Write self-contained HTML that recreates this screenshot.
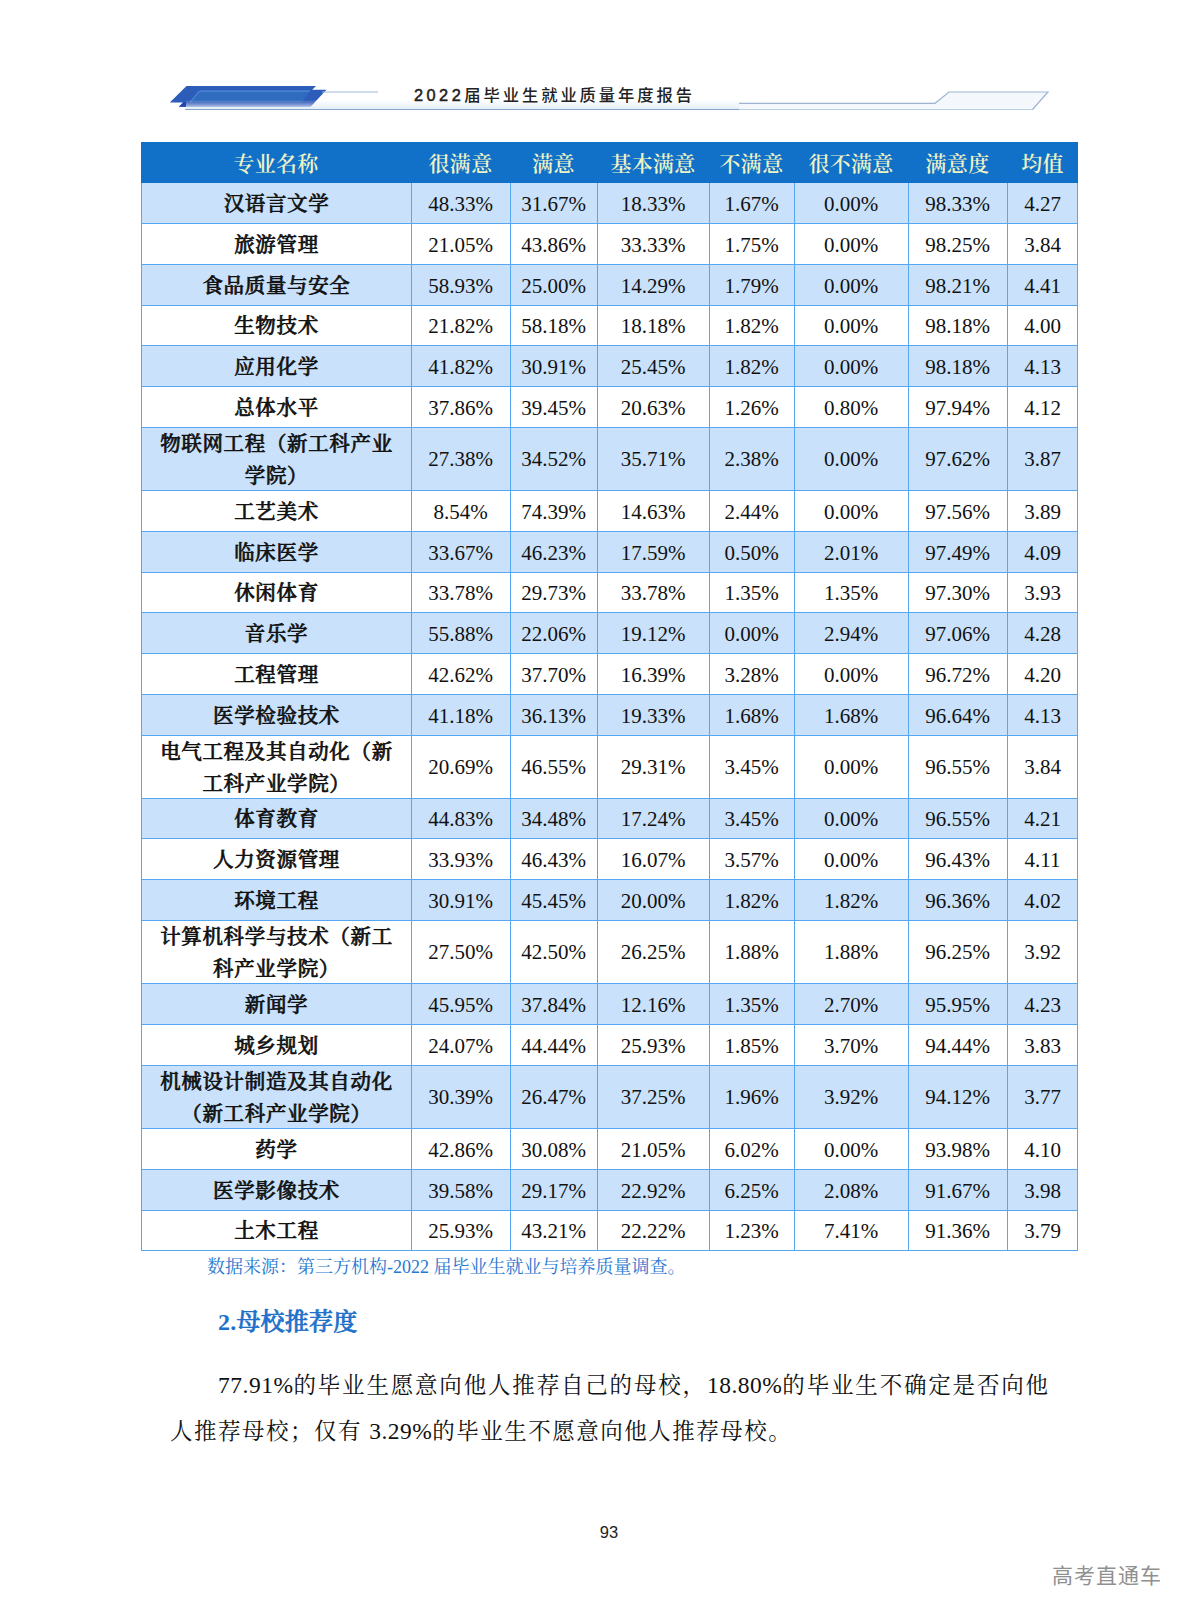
<!DOCTYPE html>
<html lang="zh-CN"><head><meta charset="utf-8"><title>2022届毕业生就业质量年度报告</title>
<style>
html,body{margin:0;padding:0;background:#fff;}
body{width:1190px;height:1615px;position:relative;overflow:hidden;font-family:"Liberation Serif","Noto Serif CJK SC",serif;color:#111;}
.abs{position:absolute;}
.tbl{position:absolute;left:0;top:0;}
.row{position:absolute;left:141px;width:937px;box-sizing:border-box;}
.row.alt{background:#c9e1fa;}
.row.tall .cell{top:0;bottom:0;}
.row.tall .cell.name{top:2px;bottom:-2px;}
.cell{position:absolute;top:1px;bottom:-1px;display:flex;align-items:center;justify-content:center;text-align:center;box-sizing:border-box;font-size:21px;line-height:30px;white-space:nowrap;}
.cell.name{font-family:"Liberation Serif","Noto Serif CJK SC",serif;font-weight:500;-webkit-text-stroke:0.65px #111;font-size:20.5px;letter-spacing:0.65px;line-height:31.6px;padding-left:1px;top:2px;bottom:-2px;}
.hdr{background:#1170c8;color:#eef3c6;}
.hdr .cell{font-size:21px;font-weight:600;letter-spacing:0.3px;top:1px;bottom:-1px;}
.vl{position:absolute;width:1px;background:#55a7f2;}
.hl{position:absolute;height:1px;background:#55a7f2;left:141px;width:937px;}
.cap{position:absolute;left:207px;top:1254px;font-size:18px;line-height:26px;color:#2878d0;white-space:nowrap;}
.h2{position:absolute;left:218px;top:1305px;font-size:24px;letter-spacing:0.2px;line-height:34px;font-weight:500;-webkit-text-stroke:0.7px #2070ca;color:#2070ca;white-space:nowrap;}
.h2 span{font-weight:700;-webkit-text-stroke:0;}
.p{position:absolute;font-size:22.5px;line-height:46px;white-space:nowrap;color:#111;}
.p .n{font-size:23.5px;letter-spacing:0.5px;}
.pn{position:absolute;left:560px;width:98px;text-align:center;top:1522px;font-family:"Liberation Sans",sans-serif;font-size:16.5px;line-height:20px;color:#222;}
.wm{position:absolute;left:1052px;top:1561px;font-family:"Liberation Sans","Noto Sans CJK SC",sans-serif;font-weight:400;font-size:21px;letter-spacing:1px;line-height:30px;color:#909090;white-space:nowrap;}
.title{position:absolute;left:414px;top:83px;font-family:"Liberation Sans","Noto Sans CJK SC",sans-serif;font-weight:500;font-size:16.3px;line-height:24px;letter-spacing:2.95px;color:#222;white-space:nowrap;}
</style></head><body>
<svg class="abs" style="left:0;top:60px" width="1190" height="70" viewBox="0 60 1190 70">
<defs>
<linearGradient id="g1" x1="0" x2="0" y1="0" y2="1"><stop offset="0" stop-color="#e3edf8" stop-opacity="0"/><stop offset="1" stop-color="#e3edf8" stop-opacity="1"/></linearGradient>
</defs>
<polygon points="169.8,102.6 186.5,86 316,86 299.5,102.6" fill="#2c5db9"/>
<polygon points="179,106.8 195,89.8 326.5,89.8 310.5,106.8" fill="#2d5cba"/>
<polygon points="179,106.8 183.3,102.3 314.7,102.3 310.5,106.8" fill="#2446b0"/>
<polygon points="190,102.3 199.5,91 310,91 302,102.3" fill="#2f6cc0"/>
<polyline points="190,102.3 199.5,91 310,91" fill="none" stroke="#5f9be0" stroke-width="0.9"/>
<rect x="186" y="100" width="846" height="9.5" fill="url(#g1)"/>
<line x1="185" y1="109.5" x2="1033" y2="109.5" stroke="#86a6cc" stroke-width="1.2"/>
<line x1="322" y1="92" x2="378" y2="92" stroke="#9bb8d8" stroke-width="1.2"/>
<polygon points="739,103.3 935,103.3 949,92 1048,92 1032.5,109.5 739,109.5" fill="#f4f8fc"/>
<polyline points="739,103.3 935,103.3 949,92 1048,92 1032.5,109.5" fill="none" stroke="#9fb5cf" stroke-width="1.2"/>
</svg>
<div class="title"><span style="font-weight:400;-webkit-text-stroke:0.5px #222;letter-spacing:3.5px">2022</span>届毕业生就业质量年度报告</div>
<div class="row hdr" style="top:142px;height:41px"><div class="cell " style="left:0px;width:270px">专业名称</div><div class="cell" style="left:270px;width:99px">很满意</div><div class="cell" style="left:369px;width:87px">满意</div><div class="cell" style="left:456px;width:112px">基本满意</div><div class="cell" style="left:568px;width:85px">不满意</div><div class="cell" style="left:653px;width:114px">很不满意</div><div class="cell" style="left:767px;width:99px">满意度</div><div class="cell" style="left:866px;width:71px">均值</div></div>
<div class="row alt" style="top:183px;height:40px"><div class="cell name" style="left:0px;width:270px">汉语言文学</div><div class="cell" style="left:270px;width:99px">48.33%</div><div class="cell" style="left:369px;width:87px">31.67%</div><div class="cell" style="left:456px;width:112px">18.33%</div><div class="cell" style="left:568px;width:85px">1.67%</div><div class="cell" style="left:653px;width:114px">0.00%</div><div class="cell" style="left:767px;width:99px">98.33%</div><div class="cell" style="left:866px;width:71px">4.27</div></div>
<div class="row" style="top:223px;height:41px"><div class="cell name" style="left:0px;width:270px">旅游管理</div><div class="cell" style="left:270px;width:99px">21.05%</div><div class="cell" style="left:369px;width:87px">43.86%</div><div class="cell" style="left:456px;width:112px">33.33%</div><div class="cell" style="left:568px;width:85px">1.75%</div><div class="cell" style="left:653px;width:114px">0.00%</div><div class="cell" style="left:767px;width:99px">98.25%</div><div class="cell" style="left:866px;width:71px">3.84</div></div>
<div class="row alt" style="top:264px;height:41px"><div class="cell name" style="left:0px;width:270px">食品质量与安全</div><div class="cell" style="left:270px;width:99px">58.93%</div><div class="cell" style="left:369px;width:87px">25.00%</div><div class="cell" style="left:456px;width:112px">14.29%</div><div class="cell" style="left:568px;width:85px">1.79%</div><div class="cell" style="left:653px;width:114px">0.00%</div><div class="cell" style="left:767px;width:99px">98.21%</div><div class="cell" style="left:866px;width:71px">4.41</div></div>
<div class="row" style="top:305px;height:40px"><div class="cell name" style="left:0px;width:270px">生物技术</div><div class="cell" style="left:270px;width:99px">21.82%</div><div class="cell" style="left:369px;width:87px">58.18%</div><div class="cell" style="left:456px;width:112px">18.18%</div><div class="cell" style="left:568px;width:85px">1.82%</div><div class="cell" style="left:653px;width:114px">0.00%</div><div class="cell" style="left:767px;width:99px">98.18%</div><div class="cell" style="left:866px;width:71px">4.00</div></div>
<div class="row alt" style="top:345px;height:41px"><div class="cell name" style="left:0px;width:270px">应用化学</div><div class="cell" style="left:270px;width:99px">41.82%</div><div class="cell" style="left:369px;width:87px">30.91%</div><div class="cell" style="left:456px;width:112px">25.45%</div><div class="cell" style="left:568px;width:85px">1.82%</div><div class="cell" style="left:653px;width:114px">0.00%</div><div class="cell" style="left:767px;width:99px">98.18%</div><div class="cell" style="left:866px;width:71px">4.13</div></div>
<div class="row" style="top:386px;height:41px"><div class="cell name" style="left:0px;width:270px">总体水平</div><div class="cell" style="left:270px;width:99px">37.86%</div><div class="cell" style="left:369px;width:87px">39.45%</div><div class="cell" style="left:456px;width:112px">20.63%</div><div class="cell" style="left:568px;width:85px">1.26%</div><div class="cell" style="left:653px;width:114px">0.80%</div><div class="cell" style="left:767px;width:99px">97.94%</div><div class="cell" style="left:866px;width:71px">4.12</div></div>
<div class="row alt tall" style="top:427px;height:63px"><div class="cell name" style="left:0px;width:270px">物联网工程（新工科产业<br>学院）</div><div class="cell" style="left:270px;width:99px">27.38%</div><div class="cell" style="left:369px;width:87px">34.52%</div><div class="cell" style="left:456px;width:112px">35.71%</div><div class="cell" style="left:568px;width:85px">2.38%</div><div class="cell" style="left:653px;width:114px">0.00%</div><div class="cell" style="left:767px;width:99px">97.62%</div><div class="cell" style="left:866px;width:71px">3.87</div></div>
<div class="row" style="top:490px;height:41px"><div class="cell name" style="left:0px;width:270px">工艺美术</div><div class="cell" style="left:270px;width:99px">8.54%</div><div class="cell" style="left:369px;width:87px">74.39%</div><div class="cell" style="left:456px;width:112px">14.63%</div><div class="cell" style="left:568px;width:85px">2.44%</div><div class="cell" style="left:653px;width:114px">0.00%</div><div class="cell" style="left:767px;width:99px">97.56%</div><div class="cell" style="left:866px;width:71px">3.89</div></div>
<div class="row alt" style="top:531px;height:41px"><div class="cell name" style="left:0px;width:270px">临床医学</div><div class="cell" style="left:270px;width:99px">33.67%</div><div class="cell" style="left:369px;width:87px">46.23%</div><div class="cell" style="left:456px;width:112px">17.59%</div><div class="cell" style="left:568px;width:85px">0.50%</div><div class="cell" style="left:653px;width:114px">2.01%</div><div class="cell" style="left:767px;width:99px">97.49%</div><div class="cell" style="left:866px;width:71px">4.09</div></div>
<div class="row" style="top:572px;height:40px"><div class="cell name" style="left:0px;width:270px">休闲体育</div><div class="cell" style="left:270px;width:99px">33.78%</div><div class="cell" style="left:369px;width:87px">29.73%</div><div class="cell" style="left:456px;width:112px">33.78%</div><div class="cell" style="left:568px;width:85px">1.35%</div><div class="cell" style="left:653px;width:114px">1.35%</div><div class="cell" style="left:767px;width:99px">97.30%</div><div class="cell" style="left:866px;width:71px">3.93</div></div>
<div class="row alt" style="top:612px;height:41px"><div class="cell name" style="left:0px;width:270px">音乐学</div><div class="cell" style="left:270px;width:99px">55.88%</div><div class="cell" style="left:369px;width:87px">22.06%</div><div class="cell" style="left:456px;width:112px">19.12%</div><div class="cell" style="left:568px;width:85px">0.00%</div><div class="cell" style="left:653px;width:114px">2.94%</div><div class="cell" style="left:767px;width:99px">97.06%</div><div class="cell" style="left:866px;width:71px">4.28</div></div>
<div class="row" style="top:653px;height:41px"><div class="cell name" style="left:0px;width:270px">工程管理</div><div class="cell" style="left:270px;width:99px">42.62%</div><div class="cell" style="left:369px;width:87px">37.70%</div><div class="cell" style="left:456px;width:112px">16.39%</div><div class="cell" style="left:568px;width:85px">3.28%</div><div class="cell" style="left:653px;width:114px">0.00%</div><div class="cell" style="left:767px;width:99px">96.72%</div><div class="cell" style="left:866px;width:71px">4.20</div></div>
<div class="row alt" style="top:694px;height:41px"><div class="cell name" style="left:0px;width:270px">医学检验技术</div><div class="cell" style="left:270px;width:99px">41.18%</div><div class="cell" style="left:369px;width:87px">36.13%</div><div class="cell" style="left:456px;width:112px">19.33%</div><div class="cell" style="left:568px;width:85px">1.68%</div><div class="cell" style="left:653px;width:114px">1.68%</div><div class="cell" style="left:767px;width:99px">96.64%</div><div class="cell" style="left:866px;width:71px">4.13</div></div>
<div class="row tall" style="top:735px;height:63px"><div class="cell name" style="left:0px;width:270px">电气工程及其自动化（新<br>工科产业学院）</div><div class="cell" style="left:270px;width:99px">20.69%</div><div class="cell" style="left:369px;width:87px">46.55%</div><div class="cell" style="left:456px;width:112px">29.31%</div><div class="cell" style="left:568px;width:85px">3.45%</div><div class="cell" style="left:653px;width:114px">0.00%</div><div class="cell" style="left:767px;width:99px">96.55%</div><div class="cell" style="left:866px;width:71px">3.84</div></div>
<div class="row alt" style="top:798px;height:40px"><div class="cell name" style="left:0px;width:270px">体育教育</div><div class="cell" style="left:270px;width:99px">44.83%</div><div class="cell" style="left:369px;width:87px">34.48%</div><div class="cell" style="left:456px;width:112px">17.24%</div><div class="cell" style="left:568px;width:85px">3.45%</div><div class="cell" style="left:653px;width:114px">0.00%</div><div class="cell" style="left:767px;width:99px">96.55%</div><div class="cell" style="left:866px;width:71px">4.21</div></div>
<div class="row" style="top:838px;height:41px"><div class="cell name" style="left:0px;width:270px">人力资源管理</div><div class="cell" style="left:270px;width:99px">33.93%</div><div class="cell" style="left:369px;width:87px">46.43%</div><div class="cell" style="left:456px;width:112px">16.07%</div><div class="cell" style="left:568px;width:85px">3.57%</div><div class="cell" style="left:653px;width:114px">0.00%</div><div class="cell" style="left:767px;width:99px">96.43%</div><div class="cell" style="left:866px;width:71px">4.11</div></div>
<div class="row alt" style="top:879px;height:41px"><div class="cell name" style="left:0px;width:270px">环境工程</div><div class="cell" style="left:270px;width:99px">30.91%</div><div class="cell" style="left:369px;width:87px">45.45%</div><div class="cell" style="left:456px;width:112px">20.00%</div><div class="cell" style="left:568px;width:85px">1.82%</div><div class="cell" style="left:653px;width:114px">1.82%</div><div class="cell" style="left:767px;width:99px">96.36%</div><div class="cell" style="left:866px;width:71px">4.02</div></div>
<div class="row tall" style="top:920px;height:63px"><div class="cell name" style="left:0px;width:270px">计算机科学与技术（新工<br>科产业学院）</div><div class="cell" style="left:270px;width:99px">27.50%</div><div class="cell" style="left:369px;width:87px">42.50%</div><div class="cell" style="left:456px;width:112px">26.25%</div><div class="cell" style="left:568px;width:85px">1.88%</div><div class="cell" style="left:653px;width:114px">1.88%</div><div class="cell" style="left:767px;width:99px">96.25%</div><div class="cell" style="left:866px;width:71px">3.92</div></div>
<div class="row alt" style="top:983px;height:41px"><div class="cell name" style="left:0px;width:270px">新闻学</div><div class="cell" style="left:270px;width:99px">45.95%</div><div class="cell" style="left:369px;width:87px">37.84%</div><div class="cell" style="left:456px;width:112px">12.16%</div><div class="cell" style="left:568px;width:85px">1.35%</div><div class="cell" style="left:653px;width:114px">2.70%</div><div class="cell" style="left:767px;width:99px">95.95%</div><div class="cell" style="left:866px;width:71px">4.23</div></div>
<div class="row" style="top:1024px;height:41px"><div class="cell name" style="left:0px;width:270px">城乡规划</div><div class="cell" style="left:270px;width:99px">24.07%</div><div class="cell" style="left:369px;width:87px">44.44%</div><div class="cell" style="left:456px;width:112px">25.93%</div><div class="cell" style="left:568px;width:85px">1.85%</div><div class="cell" style="left:653px;width:114px">3.70%</div><div class="cell" style="left:767px;width:99px">94.44%</div><div class="cell" style="left:866px;width:71px">3.83</div></div>
<div class="row alt tall" style="top:1065px;height:63px"><div class="cell name" style="left:0px;width:270px">机械设计制造及其自动化<br>（新工科产业学院）</div><div class="cell" style="left:270px;width:99px">30.39%</div><div class="cell" style="left:369px;width:87px">26.47%</div><div class="cell" style="left:456px;width:112px">37.25%</div><div class="cell" style="left:568px;width:85px">1.96%</div><div class="cell" style="left:653px;width:114px">3.92%</div><div class="cell" style="left:767px;width:99px">94.12%</div><div class="cell" style="left:866px;width:71px">3.77</div></div>
<div class="row" style="top:1128px;height:41px"><div class="cell name" style="left:0px;width:270px">药学</div><div class="cell" style="left:270px;width:99px">42.86%</div><div class="cell" style="left:369px;width:87px">30.08%</div><div class="cell" style="left:456px;width:112px">21.05%</div><div class="cell" style="left:568px;width:85px">6.02%</div><div class="cell" style="left:653px;width:114px">0.00%</div><div class="cell" style="left:767px;width:99px">93.98%</div><div class="cell" style="left:866px;width:71px">4.10</div></div>
<div class="row alt" style="top:1169px;height:41px"><div class="cell name" style="left:0px;width:270px">医学影像技术</div><div class="cell" style="left:270px;width:99px">39.58%</div><div class="cell" style="left:369px;width:87px">29.17%</div><div class="cell" style="left:456px;width:112px">22.92%</div><div class="cell" style="left:568px;width:85px">6.25%</div><div class="cell" style="left:653px;width:114px">2.08%</div><div class="cell" style="left:767px;width:99px">91.67%</div><div class="cell" style="left:866px;width:71px">3.98</div></div>
<div class="row" style="top:1210px;height:40px"><div class="cell name" style="left:0px;width:270px">土木工程</div><div class="cell" style="left:270px;width:99px">25.93%</div><div class="cell" style="left:369px;width:87px">43.21%</div><div class="cell" style="left:456px;width:112px">22.22%</div><div class="cell" style="left:568px;width:85px">1.23%</div><div class="cell" style="left:653px;width:114px">7.41%</div><div class="cell" style="left:767px;width:99px">91.36%</div><div class="cell" style="left:866px;width:71px">3.79</div></div>
<div class="hl" style="top:223px"></div><div class="hl" style="top:264px"></div><div class="hl" style="top:305px"></div><div class="hl" style="top:345px"></div><div class="hl" style="top:386px"></div><div class="hl" style="top:427px"></div><div class="hl" style="top:490px"></div><div class="hl" style="top:531px"></div><div class="hl" style="top:572px"></div><div class="hl" style="top:612px"></div><div class="hl" style="top:653px"></div><div class="hl" style="top:694px"></div><div class="hl" style="top:735px"></div><div class="hl" style="top:798px"></div><div class="hl" style="top:838px"></div><div class="hl" style="top:879px"></div><div class="hl" style="top:920px"></div><div class="hl" style="top:983px"></div><div class="hl" style="top:1024px"></div><div class="hl" style="top:1065px"></div><div class="hl" style="top:1128px"></div><div class="hl" style="top:1169px"></div><div class="hl" style="top:1210px"></div><div class="hl" style="top:1250px"></div>
<div class="vl" style="left:141px;top:183px;height:1068px"></div><div class="vl" style="left:411px;top:183px;height:1068px"></div><div class="vl" style="left:510px;top:183px;height:1068px"></div><div class="vl" style="left:597px;top:183px;height:1068px"></div><div class="vl" style="left:709px;top:183px;height:1068px"></div><div class="vl" style="left:794px;top:183px;height:1068px"></div><div class="vl" style="left:908px;top:183px;height:1068px"></div><div class="vl" style="left:1007px;top:183px;height:1068px"></div><div class="vl" style="left:1077px;top:183px;height:1068px"></div>
<div class="cap">数据来源：第三方机构-2022 届毕业生就业与培养质量调查。</div>
<div class="h2"><span>2.</span>母校推荐度</div>
<div class="p" style="left:218px;top:1362px;letter-spacing:1.82px"><span class="n">77.91%</span>的毕业生愿意向他人推荐自己的母校，<span class="n">18.80%</span>的毕业生不确定是否向他</div>
<div class="p" style="left:170px;top:1408px;letter-spacing:1.5px">人推荐母校；仅有 <span class="n">3.29%</span>的毕业生不愿意向他人推荐母校。</div>
<div class="pn">93</div>
<div class="wm">高考直通车</div>
</body></html>
